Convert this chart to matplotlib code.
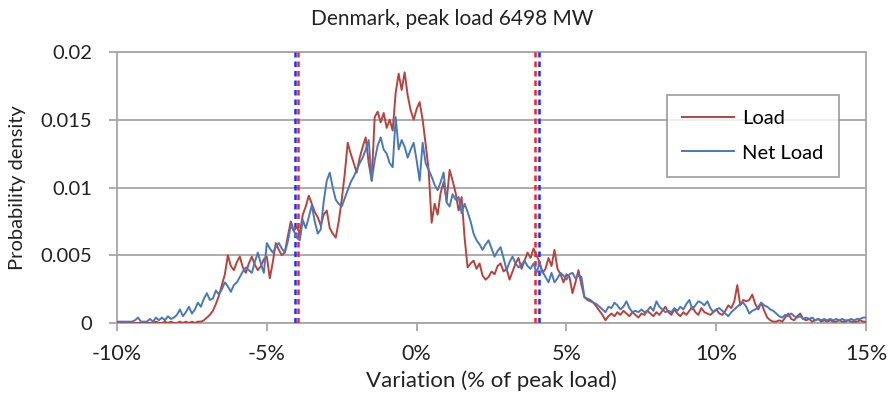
import numpy as np
import matplotlib
matplotlib.use("Agg")
import matplotlib.pyplot as plt

# variation grid (% of peak load), 0.1 % steps from -10 to 15
variation = np.round(np.arange(-10.0, 15.05, 0.1), 1)

# probability density, in units of 1e-4
load = [
    0, 0, 0, 0, 0, 0, 0, 0, 0, 0,
    0, 0, 0, 1, 0, 0, 1, 0, 1, 0,
    0, 1, 0, 1, 0, 1, 0, 1, 1, 2,
    4, 6, 9, 14, 20, 28, 36, 50, 42, 39,
    45, 49, 41, 37, 44, 49, 43, 39, 42, 47,
    49, 33, 45, 59, 54, 50, 52, 64, 75, 68,
    71, 66, 80, 86, 94, 88, 82, 78, 72, 80,
    83, 70, 66, 63, 75, 91, 110, 133, 125, 118,
    111, 122, 130, 137, 118, 105, 152, 156, 148, 155,
    144, 150, 142, 170, 184, 172, 185, 168, 157, 150,
    158, 163, 150, 132, 113, 74, 88, 80, 96, 104,
    90, 113, 105, 96, 83, 93, 63, 41, 44, 46,
    40, 44, 35, 32, 34, 38, 36, 42, 44, 38,
    40, 32, 38, 44, 48, 40, 46, 52, 48, 55,
    50, 45, 37, 40, 48, 42, 54, 40, 36, 30,
    36, 34, 22, 30, 39, 28, 19, 17, 16, 15,
    12, 9, 6, 2, 5, 7, 5, 8, 6, 9,
    7, 5, 8, 6, 4, 7, 6, 9, 7, 5,
    8, 6, 9, 12, 8, 6, 10, 7, 5, 8,
    6, 9, 12, 8, 6, 11, 8, 7, 6, 8,
    10, 7, 6, 9, 13, 11, 16, 28, 13, 17,
    16, 17, 21, 14, 10, 15, 9, 4, 2, 1,
    1, 2, 1, 4, 7, 3, 2, 5, 7, 3,
    2, 3, 1, 2, 3, 1, 2, 1, 2, 1,
    1, 2, 1, 1, 2, 1, 1, 1, 2, 1, 1,
]

net_load = [
    1, 1, 1, 1, 1, 1, 2, 4, 1, 1,
    1, 3, 1, 4, 2, 4, 2, 5, 3, 4,
    6, 10, 5, 8, 12, 7, 10, 15, 12, 18,
    22, 17, 18, 24, 21, 25, 30, 27, 23, 28,
    30, 34, 38, 41, 39, 37, 45, 52, 44, 37,
    59, 55, 52, 56, 59, 55, 52, 60, 72, 68,
    63, 61, 76, 70, 78, 87, 75, 66, 69, 90,
    105, 111, 100, 91, 88, 86, 92, 98, 104, 108,
    113, 118, 122, 128, 135, 105, 120, 131, 137, 128,
    125, 118, 115, 152, 128, 135, 130, 122, 128, 133,
    120, 105, 133, 118, 113, 108, 102, 98, 104, 111,
    89, 86, 95, 91, 93, 81, 88, 82, 75, 66,
    61, 58, 54, 58, 61, 55, 49, 53, 56, 48,
    39, 45, 49, 44, 41, 43, 46, 42, 40, 44,
    37, 44, 38, 34, 30, 37, 30, 33, 37, 35,
    32, 36, 37, 33, 35, 34, 19, 18, 17, 15,
    14, 12, 10, 8, 12, 11, 15, 13, 10, 12,
    16, 11, 8, 9, 8, 10, 8, 9, 12, 9,
    16, 12, 10, 8, 9, 8, 11, 9, 12, 10,
    14, 17, 10, 13, 16, 15, 13, 16, 11, 8,
    10, 11, 9, 7, 5, 8, 10, 12, 14, 15,
    12, 7, 9, 10, 12, 15, 13, 12, 10, 9,
    7, 5, 4, 6, 5, 7, 5, 4, 5, 3,
    4, 3, 4, 2, 3, 2, 3, 2, 3, 2,
    3, 2, 3, 2, 2, 3, 2, 3, 3, 4, 4,
]

# +/- limits (% of peak load) drawn as dashed verticals
load_limits = [-3.97, 3.96]
net_load_limits = [-4.07, 4.09]

load = np.array(load) / 10000.0
net_load = np.array(net_load) / 10000.0

plt.rcParams['font.family'] = ['Lato', 'DejaVu Sans']
fs = 14.5

fig = plt.figure(figsize=(8.91, 3.94), dpi=100)
ax = fig.add_axes([0.1313, 0.1802, 0.8408, 0.6878])

grid_col = '#a6a6a6'
ax.set_xlim(-10, 15)
ax.set_ylim(0, 0.02)
ax.set_yticks([0, 0.005, 0.01, 0.015, 0.02])
ax.set_yticklabels(['0', '0.005', '0.01', '0.015', '0.02'])
ax.set_xticks([-10, -5, 0, 5, 10, 15])
ax.set_xticklabels(['-10%', '-5%', '0%', '5%', '10%', '15%'])
ax.yaxis.grid(True, color=grid_col, lw=1.3)
ax.set_axisbelow(True)
for s in ['left', 'right', 'bottom', 'top']:
    ax.spines[s].set_color(grid_col)
    ax.spines[s].set_linewidth(1.3)
ax.tick_params(axis='both', colors=grid_col, length=6, width=1.3,
               labelcolor='#222222', labelsize=fs)
ax.tick_params(axis='x', pad=9, labelsize=15.5)
ax.tick_params(axis='y', pad=12)

for v in net_load_limits:
    ax.axvline(v, color='#1f2bff', lw=1.8, ls=(0, (2.2, 1.6)), zorder=3)
for v in load_limits:
    ax.axvline(v, color='#ff2020', lw=1.8, ls=(0, (2.2, 1.6)), zorder=3)

ax.plot(variation, load, color='#b5443f', lw=1.4, label='Load', zorder=4)
ax.plot(variation, net_load, color='#4a78b8', lw=1.4, label='Net Load', zorder=5)

leg = ax.legend(loc='upper left', bbox_to_anchor=(0.734, 0.841), fontsize=fs,
                frameon=True, fancybox=False, handlelength=2.6, labelspacing=0.85,
                borderpad=0.75, handletextpad=0.4, borderaxespad=0)
leg.get_frame().set_edgecolor('#8c8c8c')
leg.get_frame().set_linewidth(1.3)

fig.text(0.508, 0.953, 'Denmark, peak load 6498 MW', ha='center', va='center',
         fontsize=15, color='#222222')
ax.set_xlabel('Variation (% of peak load)', fontsize=16, color='#222222', labelpad=5)
ax.set_ylabel('Probability density', fontsize=fs, color='#222222', labelpad=10)

fig.savefig('out.png', dpi=100)
